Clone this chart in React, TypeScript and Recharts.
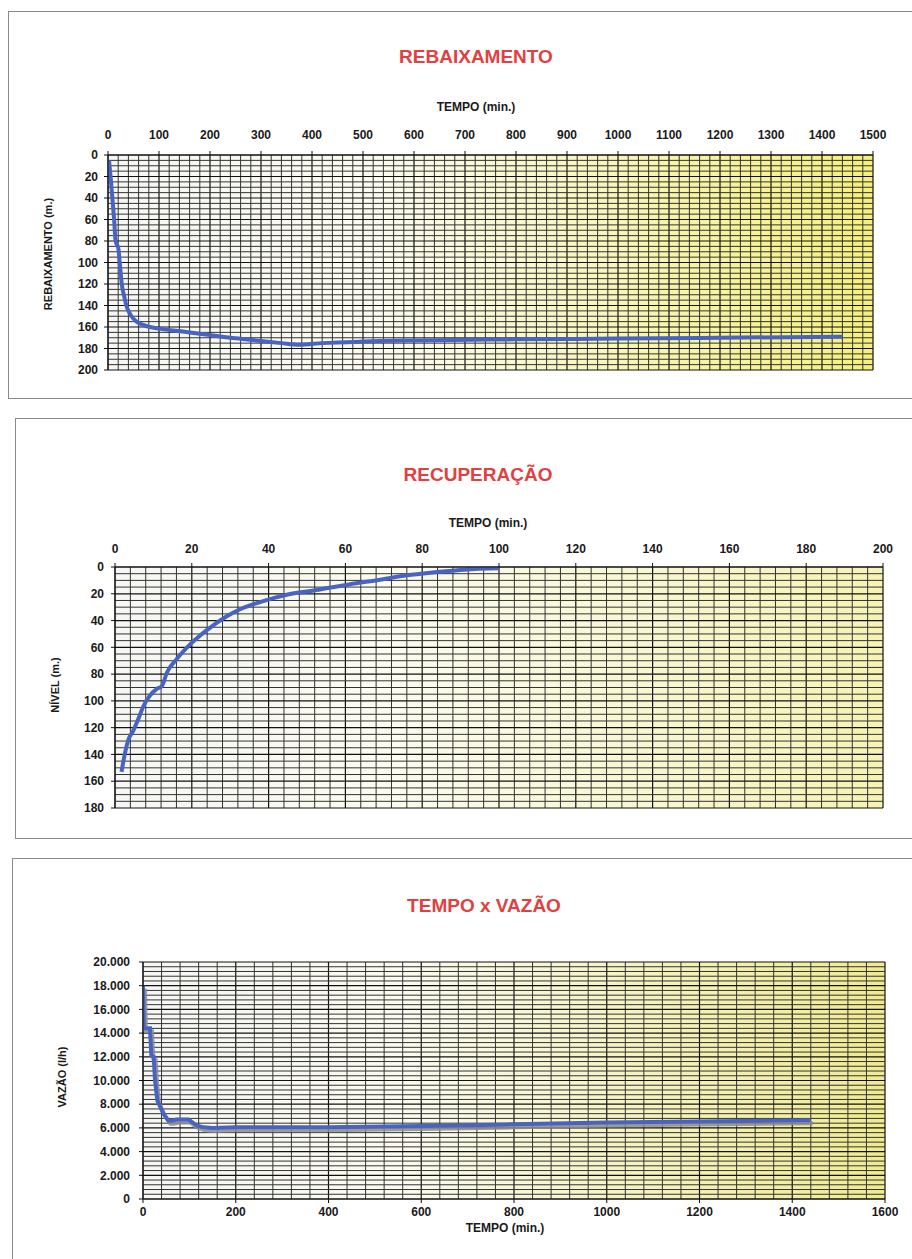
import React from 'react'
import { LineChart, Line, XAxis, YAxis, ReferenceLine, CartesianGrid } from 'recharts'

const FONT = "'Liberation Sans', Arial, Helvetica, sans-serif"
const TITLE_RED = '#e2403f'
const LINE_BLUE = '#4863c1'

// REBAIXAMENTO: tempo (min) x rebaixamento (m)
const DRAW_TIME = [2, 5, 8.5, 12, 15, 18, 20, 23, 27, 32, 36, 41, 46, 56, 69, 82, 100, 150, 200, 250, 300, 340, 375, 420, 500, 600, 800, 1000, 1200, 1440]
const DRAW_DEPTH = [5, 20, 40, 60, 80, 84, 86, 100, 120, 132, 140, 146, 150, 155, 158, 160, 161.5, 164.5, 167.5, 170.5, 173, 175, 176.5, 175, 173.5, 172.5, 171.5, 170.8, 170, 169]
const DRAW_X_TICKS = [0, 100, 200, 300, 400, 500, 600, 700, 800, 900, 1000, 1100, 1200, 1300, 1400, 1500]
const DRAW_Y_TICKS = [0, 20, 40, 60, 80, 100, 120, 140, 160, 180, 200]

// RECUPERAÇÃO: tempo (min) x nível (m)
const REC_TIME = [1.7, 2.6, 3.5, 4.8, 6, 7.4, 9.1, 10.9, 12.2, 13.5, 16, 19.5, 24, 29, 33, 38, 45, 53, 61, 69, 76, 84, 91, 100]
const REC_LEVEL = [153, 139, 129, 122, 114, 104, 96, 91, 89, 79, 69, 58, 47, 37, 31, 26, 20.5, 17, 13, 9.5, 6.2, 3.8, 2, 1]
const REC_X_TICKS = [0, 20, 40, 60, 80, 100, 120, 140, 160, 180, 200]
const REC_Y_TICKS = [0, 20, 40, 60, 80, 100, 120, 140, 160, 180]

// TEMPO x VAZÃO: tempo (min) x vazão (l/h)
const FLOW_TIME = [0, 2, 15, 18, 23, 26, 31, 37, 44, 55, 62, 73, 98, 105, 116, 130, 150, 200, 400, 600, 800, 1000, 1200, 1440]
const FLOW_RATE = [18000, 14400, 14400, 12100, 12000, 10000, 8300, 7800, 7200, 6600, 6600, 6700, 6700, 6500, 6200, 6050, 6000, 6050, 6050, 6150, 6300, 6450, 6550, 6650]
const FLOW_X_TICKS = [0, 200, 400, 600, 800, 1000, 1200, 1400, 1600]
const FLOW_Y_TICKS = [0, 2000, 4000, 6000, 8000, 10000, 12000, 14000, 16000, 18000, 20000]

// minor grid values, one every `step` up to `max`
const steps = (max: number, step: number) =>
  Array.from({ length: Math.round(max / step) + 1 }, (_, i) => i * step)

const toPoints = (xs: number[], ys: number[]) => xs.map((t, i) => ({ t, v: ys[i] }))

const thousands = (v: number) => v.toLocaleString('en-US').replace(/,/g, '.')

type Box = { left: number; top: number; right: number; bottom: number }

type PlotProps = {
  id: string
  top: number
  height: number
  plot: Box
  data: { t: number; v: number }[]
  xTicks: number[]
  yTicks: number[]
  xMinor: number[]
  yMinor: number[]
  xOnTop: boolean
  reversed: boolean
  xGap: number
  yGap: number
  fontSize: number
  yellow: string
  curve: 'monotone' | 'linear'
  yFormat?: (v: number) => string
  shadow?: boolean
}

const XH = 30
const YW = 60

function GridPlot(p: PlotProps) {
  const margin = {
    top: p.plot.top - p.top - (p.xOnTop ? XH : 0),
    bottom: p.top + p.height - p.plot.bottom - (p.xOnTop ? 0 : XH),
    left: p.plot.left - YW,
    right: 912 - p.plot.right,
  }
  const xMax = p.xTicks[p.xTicks.length - 1]
  const yMax = p.yTicks[p.yTicks.length - 1]
  const tick = { fontSize: p.fontSize, fontWeight: 700, fill: '#1a1a1a', fontFamily: FONT }
  const major = new Set([...p.xTicks])
  const majorY = new Set([...p.yTicks])
  return (
    <div style={{ position: 'absolute', left: 0, top: p.top }}>
      <LineChart width={912} height={p.height} data={p.data} margin={margin}>
        <defs>
          <linearGradient id={`bg-${p.id}`} x1="0" y1="0" x2="1" y2="0">
            <stop offset="0%" stopColor="#f6f6f4" />
            <stop offset="35%" stopColor="#fbfbf0" />
            <stop offset="100%" stopColor={p.yellow} />
          </linearGradient>
          <filter id={`sh-${p.id}`} x="-5%" y="-20%" width="110%" height="160%">
            <feDropShadow dx="2" dy="3" stdDeviation="0.6" floodColor="#8c8c8c" floodOpacity="0.85" />
          </filter>
        </defs>
        <CartesianGrid fill={`url(#bg-${p.id})`} stroke="none" horizontal={false} vertical={false} />
        <XAxis
          dataKey="t"
          type="number"
          domain={[0, xMax]}
          ticks={p.xTicks}
          interval={0}
          orientation={p.xOnTop ? 'top' : 'bottom'}
          height={XH}
          tickSize={4}
          tickMargin={p.xGap}
          tick={tick}
          axisLine={{ stroke: '#111' }}
          tickLine={{ stroke: '#111' }}
          allowDataOverflow
        />
        <YAxis
          dataKey="v"
          type="number"
          domain={[0, yMax]}
          ticks={p.yTicks}
          interval={0}
          reversed={p.reversed}
          width={YW}
          tickSize={4}
          tickMargin={p.yGap}
          tick={tick}
          tickFormatter={p.yFormat}
          axisLine={{ stroke: '#111' }}
          tickLine={{ stroke: '#111' }}
          allowDataOverflow
        />
        {p.xMinor.map((x) => (
          <ReferenceLine
            key={`x${x}`}
            x={x}
            stroke={major.has(x) ? '#111' : '#333'}
            strokeWidth={major.has(x) ? 1.2 : 1}
          />
        ))}
        {p.yMinor.map((y) => (
          <ReferenceLine
            key={`y${y}`}
            y={y}
            stroke={majorY.has(y) ? '#111' : '#333'}
            strokeWidth={majorY.has(y) ? 1.2 : 1}
          />
        ))}
        <Line
          dataKey="v"
          type={p.curve}
          stroke={LINE_BLUE}
          strokeWidth={4}
          dot={false}
          activeDot={false}
          isAnimationActive={false}
          filter={p.shadow ? `url(#sh-${p.id})` : undefined}
        />
      </LineChart>
    </div>
  )
}

function Frame({ left, top, bottom }: { left: number; top: number; bottom: number }) {
  return (
    <div
      style={{
        position: 'absolute',
        left,
        top,
        width: 930 - left,
        height: bottom - top,
        border: '1px solid #8a8a8a',
        boxSizing: 'border-box',
      }}
    />
  )
}

function Title({ text, cx, cy }: { text: string; cx: number; cy: number }) {
  return (
    <div
      style={{
        position: 'absolute',
        left: cx - 200,
        top: cy - 12,
        width: 400,
        height: 24,
        lineHeight: '24px',
        textAlign: 'center',
        color: TITLE_RED,
        fontWeight: 700,
        fontSize: 19,
      }}
    >
      {text}
    </div>
  )
}

function AxisTitle({ text, cx, cy, rotate }: { text: string; cx: number; cy: number; rotate?: boolean }) {
  return (
    <div
      style={{
        position: 'absolute',
        left: cx,
        top: cy,
        transform: `translate(-50%, -50%)${rotate ? ' rotate(-90deg)' : ''}`,
        whiteSpace: 'nowrap',
        fontWeight: 700,
        fontSize: rotate ? 11 : 12,
        color: '#1a1a1a',
      }}
    >
      {text}
    </div>
  )
}

export default function App() {
  return (
    <div
      style={{
        position: 'absolute',
        left: 0,
        top: 0,
        width: 912,
        height: 1259,
        overflow: 'hidden',
        background: '#fff',
        fontFamily: FONT,
      }}
    >
      <Frame left={8} top={11} bottom={399} />
      <Frame left={15} top={418} bottom={839} />
      <Frame left={12} top={858} bottom={1280} />

      <Title text="REBAIXAMENTO" cx={476} cy={57} />
      <AxisTitle text="TEMPO (min.)" cx={476} cy={107} />
      <AxisTitle text="REBAIXAMENTO (m.)" cx={48} cy={254} rotate />
      <GridPlot
        id="reb"
        top={0}
        height={400}
        plot={{ left: 108, top: 155, right: 873, bottom: 370 }}
        data={toPoints(DRAW_TIME, DRAW_DEPTH)}
        xTicks={DRAW_X_TICKS}
        yTicks={DRAW_Y_TICKS}
        xMinor={steps(1500, 20)}
        yMinor={steps(200, 5)}
        xOnTop
        reversed
        xGap={12}
        yGap={6}
        fontSize={12}
        yellow="#f5f07c"
        curve="monotone"
      />

      <Title text="RECUPERAÇÃO" cx={478} cy={475} />
      <AxisTitle text="TEMPO (min.)" cx={488} cy={523} />
      <AxisTitle text="NÍVEL (m.)" cx={55} cy={685} rotate />
      <GridPlot
        id="rec"
        top={410}
        height={430}
        plot={{ left: 115, top: 567, right: 883, bottom: 808 }}
        data={toPoints(REC_TIME, REC_LEVEL)}
        xTicks={REC_X_TICKS}
        yTicks={REC_Y_TICKS}
        xMinor={steps(200, 4)}
        yMinor={steps(180, 5)}
        xOnTop
        reversed
        xGap={10}
        yGap={7}
        fontSize={12}
        yellow="#f6f3b4"
        curve="monotone"
      />

      <Title text="TEMPO x VAZÃO" cx={484} cy={906} />
      <AxisTitle text="TEMPO (min.)" cx={505} cy={1228} />
      <AxisTitle text="VAZÃO (l/h)" cx={62} cy={1077} rotate />
      <GridPlot
        id="vaz"
        top={850}
        height={409}
        plot={{ left: 143, top: 962, right: 885, bottom: 1199 }}
        data={toPoints(FLOW_TIME, FLOW_RATE)}
        xTicks={FLOW_X_TICKS}
        yTicks={FLOW_Y_TICKS}
        xMinor={steps(1600, 40)}
        yMinor={steps(20000, 400)}
        xOnTop={false}
        reversed={false}
        xGap={4}
        yGap={9}
        fontSize={12}
        yellow="#f0eb90"
        curve="linear"
        yFormat={thousands}
        shadow
      />
    </div>
  )
}
